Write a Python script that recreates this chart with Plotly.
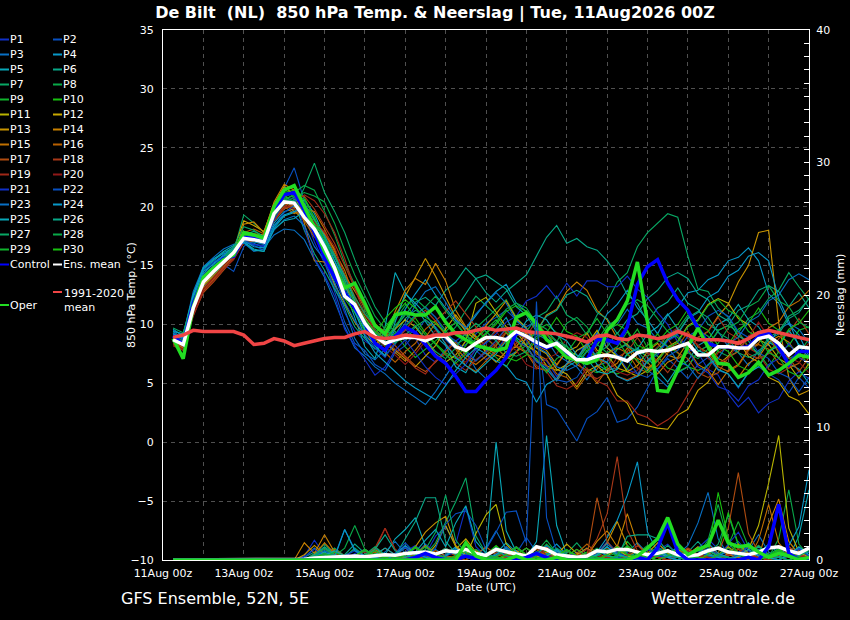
import pandas as pd
import plotly.graph_objects as go

# 6-hourly steps from 11Aug 06z to 27Aug 00z
times = pd.date_range("2026-08-11 06:00", periods=64, freq="6h")

# ---- 850 hPa temperature (deg C) ----
oper_t = [8.8, 7.1, 11.5, 14.0, 14.8, 15.5, 15.9, 17.8, 17.6, 17.3, 20.0, 21.4, 21.8, 20.0, 18.2, 16.2,
          14.7, 13.1, 13.5, 11.8, 9.9, 9.2, 10.8, 11.0, 10.8, 10.8, 11.5, 10.2, 9.2, 8.7, 8.2, 8.0,
          7.8, 8.0, 10.6, 11.0, 10.1, 8.7, 8.1, 7.2, 7.0, 6.7, 7.0, 9.5, 10.4, 12.0, 15.3, 10.2,
          4.4, 4.3, 6.1, 8.1, 9.7, 8.1, 6.7, 6.6, 5.5, 5.9, 6.8, 5.7, 6.1, 6.7, 7.4, 7.2]
control_t = [9.0, 8.3, 11.8, 13.9, 14.8, 15.6, 15.8, 17.4, 17.3, 17.0, 19.6, 21.0, 21.2, 19.7, 17.8, 15.7,
             14.0, 12.7, 11.4, 10.1, 8.4, 7.8, 9.0, 9.8, 9.3, 8.3, 7.3, 6.7, 5.6, 4.3, 4.3, 5.3,
             6.1, 7.2, 9.3, 9.0, 8.4, 8.0, 8.4, 7.6, 7.0, 7.0, 8.7, 8.7, 8.4, 9.8, 13.4, 14.9,
             15.5, 13.5, 12.1, 11.2, 9.7, 8.4, 8.1, 8.1, 8.0, 8.1, 9.0, 9.3, 8.1, 6.6, 7.7, 7.7]
ens_mean_t = [8.7, 8.3, 11.4, 13.6, 14.5, 15.3, 16.1, 17.3, 17.2, 17.0, 19.4, 20.4, 20.3, 19.1, 18.1, 16.6,
              14.8, 12.4, 11.7, 10.1, 9.0, 8.4, 8.7, 8.9, 8.9, 8.6, 9.0, 9.0, 8.1, 7.8, 8.4, 8.9,
              8.9, 8.7, 9.4, 9.0, 8.5, 8.1, 8.4, 7.7, 7.0, 7.0, 7.3, 7.4, 7.2, 6.9, 7.6, 7.8,
              7.7, 7.8, 8.1, 8.4, 7.4, 7.4, 8.1, 8.1, 8.0, 8.0, 8.8, 9.0, 8.4, 7.4, 8.1, 8.0]
clim_t = [8.9, 9.1, 9.5, 9.4, 9.4, 9.4, 9.4, 9.1, 8.3, 8.4, 8.8, 8.6, 8.2, 8.4, 8.6, 8.8,
          8.9, 8.9, 9.2, 9.4, 8.9, 8.8, 8.9, 9.1, 9.0, 8.9, 9.1, 9.1, 9.3, 9.3, 9.5, 9.7,
          9.5, 9.6, 9.7, 9.4, 9.3, 9.3, 9.2, 9.0, 8.8, 8.5, 9.0, 9.1, 8.8, 8.7, 9.1, 9.0,
          8.8, 9.0, 9.4, 9.1, 8.7, 8.7, 8.7, 8.6, 8.4, 8.8, 9.3, 9.5, 9.3, 9.1, 8.9, 8.7]

p01_t = [9.2, 8.6, 11.0, 13.2, 14.3, 15.0, 15.8, 17.0, 16.8, 16.7, 19.0, 20.6, 21.0, 19.4, 17.0, 15.2,
         13.2, 11.0, 9.4, 8.6, 8.0, 7.2, 8.5, 9.6, 8.8, 7.4, 6.8, 7.9, 8.6, 9.2, 7.8, 7.0,
         7.8, 8.9, 9.5, 8.6, 7.3, 6.9, 5.6, 6.7, 7.8, 8.1, 9.3, 8.0, 7.4, 6.2, 5.8, 6.9,
         7.4, 8.6, 9.1, 7.9, 7.6, 6.2, 5.7, 4.1, 3.0, 3.8, 2.5, 3.3, 3.7, 5.2, 6.0, 5.4]
p02_t = [9.0, 8.4, 11.8, 14.0, 14.8, 15.1, 14.5, 16.6, 17.4, 17.6, 19.8, 21.6, 23.3, 20.5, 17.8, 15.4,
         12.8, 10.2, 8.4, 7.8, 6.6, 6.1, 7.6, 8.2, 9.3, 10.4, 9.8, 8.7, 7.9, 8.3, 9.2, 10.1,
         10.6, 11.2, 10.4, 9.8, 10.3, 3.2, 2.8, 1.5, 0.1, 2.0, 2.6, 3.8, 1.7, 2.0, 3.0, 4.6,
         6.2, 7.1, 6.3, 5.4, 6.6, 7.2, 6.1, 5.8, 4.6, 5.9, 6.4, 5.8, 5.3, 4.2, 5.5, 4.6]
p03_t = [9.4, 8.8, 12.4, 14.9, 15.6, 16.0, 16.3, 17.1, 16.9, 16.5, 17.6, 18.1, 18.0, 17.2, 15.5, 14.0,
         12.0, 9.8, 8.0, 7.3, 6.4, 5.8, 5.0, 4.4, 3.8, 3.2, 4.3, 5.6, 6.9, 7.7, 6.2, 5.4,
         6.1, 7.2, 7.7, 8.9, 9.2, 8.7, 7.4, 6.9, 6.4, 5.3, 6.5, 6.8, 7.9, 8.3, 7.6, 6.1,
         5.5, 4.7, 5.9, 6.4, 7.7, 8.2, 9.4, 8.1, 7.6, 6.5, 7.8, 8.3, 9.6, 10.1, 9.6, 8.4]
p04_t = [9.1, 8.9, 12.0, 14.3, 15.2, 15.9, 16.6, 17.2, 17.0, 16.8, 18.6, 19.6, 19.8, 19.0, 18.9, 17.6,
         15.4, 13.8, 11.2, 9.5, 8.4, 7.9, 9.6, 11.3, 12.6, 13.8, 12.5, 11.4, 10.3, 9.6, 10.7, 11.9,
         12.8, 13.4, 11.8, 11.1, 9.6, 9.2, 8.0, 7.7, 6.9, 8.2, 9.2, 10.9, 11.7, 12.9, 11.4, 10.4,
         9.2, 10.8, 11.5, 12.7, 12.9, 13.8, 14.2, 15.4, 15.7, 16.5, 15.4, 12.6, 11.8, 10.0, 9.1, 7.3]
p05_t = [9.6, 9.0, 12.6, 14.7, 15.4, 16.1, 16.5, 17.0, 16.4, 16.2, 18.2, 19.2, 19.5, 20.6, 19.4, 17.4,
         14.6, 12.9, 10.6, 8.1, 7.1, 9.8, 14.4, 12.7, 11.5, 10.2, 9.0, 8.2, 6.4, 5.9, 7.6, 8.5,
         9.6, 10.6, 8.9, 8.2, 6.9, 6.2, 5.2, 6.4, 6.9, 8.1, 6.6, 6.1, 6.3, 7.5, 8.0, 7.2,
         6.1, 5.1, 6.4, 6.9, 8.2, 8.7, 10.0, 10.5, 11.7, 10.4, 9.8, 8.5, 8.0, 6.7, 6.2, 5.0]
p06_t = [8.9, 8.6, 11.2, 13.4, 14.2, 15.1, 15.9, 17.6, 17.9, 17.5, 19.7, 20.9, 20.4, 18.0, 16.0, 14.6,
         13.0, 11.6, 9.8, 8.8, 7.9, 8.4, 9.1, 10.5, 11.2, 10.8, 11.6, 12.9, 13.6, 14.8, 13.9, 12.7,
         11.9, 12.8, 13.5, 14.2, 15.8, 17.4, 18.4, 16.9, 17.3, 16.6, 16.3, 15.4, 14.2, 12.5, 11.8, 10.2,
         11.4, 11.9, 13.1, 11.8, 11.3, 10.0, 9.5, 9.9, 11.2, 11.6, 12.9, 13.3, 12.8, 11.5, 12.7, 11.4]
p07_t = [9.3, 8.1, 10.8, 13.0, 14.0, 15.0, 16.2, 19.3, 18.6, 17.8, 20.1, 20.6, 19.9, 21.6, 23.7, 21.2,
         19.6, 17.8, 15.5, 13.4, 11.5, 10.2, 9.4, 8.6, 9.8, 10.4, 9.6, 8.9, 9.8, 11.2, 12.4, 11.6,
         10.8, 9.5, 9.1, 9.4, 10.6, 11.1, 12.4, 10.8, 10.3, 9.1, 10.8, 11.9, 13.6, 14.4, 16.6, 17.8,
         18.6, 19.4, 19.1, 15.8, 13.0, 12.8, 11.4, 10.6, 9.3, 10.5, 11.0, 12.2, 12.9, 14.4, 13.2, 12.1]
p08_t = [8.6, 8.0, 11.5, 13.8, 14.6, 15.4, 16.4, 17.9, 17.6, 17.2, 19.6, 20.8, 21.2, 21.8, 21.4, 19.6,
         17.6, 15.2, 13.4, 11.2, 9.6, 8.8, 10.4, 11.6, 12.2, 11.4, 10.6, 9.5, 8.3, 8.8, 9.7, 10.5,
         11.3, 12.1, 10.6, 9.7, 8.4, 8.0, 8.5, 10.1, 10.6, 9.8, 8.3, 7.6, 8.1, 9.4, 7.8, 7.3,
         8.0, 9.1, 9.6, 10.8, 9.5, 9.0, 7.7, 7.3, 7.7, 9.0, 9.4, 8.9, 7.6, 7.1, 7.5, 8.8]
p09_t = [8.8, 8.2, 11.6, 13.7, 14.6, 15.5, 16.2, 17.5, 17.3, 17.1, 19.4, 20.7, 20.9, 20.2, 18.8, 17.0,
         15.0, 13.0, 11.2, 9.8, 8.8, 8.2, 9.3, 8.1, 7.2, 7.9, 8.6, 9.4, 10.2, 9.1, 8.4, 7.8,
         7.2, 6.4, 7.7, 8.2, 9.5, 10.0, 9.3, 7.8, 7.4, 6.2, 5.9, 6.4, 7.9, 8.4, 9.6, 8.0,
         7.3, 6.3, 6.0, 6.4, 7.7, 8.2, 9.5, 9.9, 9.4, 8.1, 7.6, 6.4, 7.7, 8.2, 9.5, 9.8]
p10_t = [8.5, 7.8, 11.3, 13.5, 14.4, 15.3, 16.0, 17.7, 17.5, 17.3, 19.9, 21.2, 21.4, 20.8, 19.0, 16.8,
         14.4, 12.2, 11.0, 9.4, 8.6, 9.7, 10.9, 11.8, 10.6, 9.3, 8.4, 7.6, 7.1, 8.2, 9.5, 8.8,
         8.1, 7.2, 6.9, 7.4, 8.8, 9.3, 10.6, 9.4, 9.0, 7.7, 7.3, 6.1, 5.8, 6.2, 7.7, 8.2,
         9.2, 8.1, 7.6, 6.4, 6.1, 6.5, 7.8, 8.3, 9.6, 10.1, 11.4, 10.1, 9.5, 8.2, 7.7, 6.5]
p11_t = [8.9, 8.4, 11.2, 13.3, 14.1, 15.0, 15.9, 17.8, 17.6, 17.4, 19.5, 20.5, 20.0, 19.6, 18.4, 15.6,
         13.4, 11.8, 10.2, 9.1, 8.3, 8.9, 9.6, 10.4, 9.8, 8.7, 7.5, 6.8, 7.4, 8.6, 11.8, 12.3,
         11.1, 9.8, 9.4, 8.2, 7.7, 6.5, 6.1, 6.6, 7.8, 8.3, 9.5, 8.0, 7.3, 6.0, 5.6, 6.1,
         7.1, 8.1, 8.6, 9.9, 10.4, 11.7, 12.2, 11.8, 10.5, 10.0, 8.7, 8.3, 7.1, 6.6, 5.4, 6.7]
p12_t = [9.0, 8.3, 11.4, 13.6, 14.5, 15.4, 16.3, 18.8, 18.4, 17.9, 20.2, 21.7, 21.0, 19.2, 17.6, 16.2,
         14.7, 12.6, 11.4, 10.2, 9.1, 8.4, 7.8, 7.1, 6.4, 7.3, 8.2, 9.6, 10.8, 9.7, 8.9, 7.6,
         6.8, 7.7, 8.1, 9.3, 8.0, 7.5, 6.2, 5.8, 4.7, 6.0, 6.5, 5.7, 4.0, 3.3, 1.6, 1.4,
         1.2, 1.1, 2.3, 2.8, 4.4, 5.1, 6.6, 7.3, 8.6, 7.3, 6.8, 5.5, 5.1, 3.9, 3.5, 2.4]
p13_t = [8.7, 8.0, 11.1, 13.4, 14.4, 15.2, 16.0, 17.4, 17.7, 17.6, 19.4, 20.2, 19.6, 18.9, 18.2, 17.7,
         16.4, 14.2, 12.8, 11.4, 10.1, 9.2, 10.6, 12.4, 14.0, 15.6, 14.1, 12.3, 10.6, 9.4, 8.7, 9.9,
         10.9, 12.0, 10.5, 9.7, 8.2, 7.8, 6.6, 7.7, 8.1, 9.3, 7.8, 7.4, 6.3, 6.0, 6.5, 7.7,
         8.4, 7.4, 7.1, 7.6, 8.9, 9.4, 10.7, 11.7, 13.6, 15.0, 17.8, 18.0, 10.1, 5.5, 4.0, 4.4]
p14_t = [8.6, 8.2, 11.0, 13.1, 14.0, 14.9, 15.7, 18.5, 18.7, 17.8, 20.4, 21.9, 21.4, 18.6, 15.4, 15.3,
         14.1, 13.2, 12.0, 10.6, 9.4, 8.8, 11.1, 12.9, 13.9, 13.4, 15.2, 13.7, 11.2, 9.8, 9.0, 8.1,
         7.4, 7.1, 7.6, 8.9, 9.4, 10.8, 11.3, 12.8, 13.6, 12.9, 11.2, 10.4, 8.8, 8.3, 7.1, 6.8,
         5.8, 6.8, 7.2, 8.5, 8.9, 8.4, 7.1, 6.7, 5.5, 6.7, 7.2, 8.5, 9.0, 8.5, 7.2, 6.7]
p15_t = [8.4, 8.0, 10.9, 12.9, 13.8, 14.8, 15.8, 17.2, 17.4, 17.2, 19.0, 20.0, 19.4, 19.8, 19.6, 18.1,
         16.2, 14.6, 12.1, 10.3, 9.2, 8.5, 7.6, 6.9, 7.8, 8.9, 10.1, 9.2, 8.0, 7.1, 6.6, 7.3,
         8.2, 9.3, 8.1, 7.6, 6.3, 6.1, 6.5, 7.8, 6.6, 6.1, 5.0, 6.2, 6.7, 8.0, 6.8, 6.3,
         6.9, 8.0, 8.4, 7.9, 6.6, 6.1, 4.9, 6.1, 6.6, 7.9, 8.4, 9.7, 10.2, 11.5, 12.0, 12.9]
p16_t = [8.8, 8.5, 11.3, 13.4, 14.3, 15.3, 16.2, 17.8, 18.1, 17.7, 19.6, 20.3, 19.9, 18.8, 17.4, 16.4,
         15.1, 13.5, 11.9, 10.0, 8.9, 7.6, 6.8, 7.7, 8.4, 9.6, 10.3, 9.1, 7.9, 6.5, 6.0, 6.9,
         7.7, 8.7, 9.2, 8.8, 7.5, 7.0, 5.8, 5.5, 4.5, 5.7, 6.2, 7.5, 8.0, 7.6, 6.3, 5.9,
         6.5, 7.6, 8.1, 9.4, 8.1, 7.6, 6.4, 6.0, 6.5, 7.8, 8.3, 7.9, 6.7, 6.3, 6.7, 8.0]
p17_t = [8.3, 7.9, 10.8, 12.7, 13.6, 14.6, 15.6, 16.9, 17.1, 17.0, 18.8, 19.8, 20.2, 19.9, 18.6, 17.8,
         16.0, 14.3, 12.4, 10.8, 9.8, 9.0, 8.2, 7.3, 6.5, 6.0, 6.8, 7.7, 8.5, 7.4, 6.9, 7.8,
         8.6, 9.6, 8.5, 8.1, 6.9, 6.5, 5.3, 6.6, 7.1, 8.3, 7.1, 6.7, 5.6, 5.3, 5.7, 7.0,
         7.7, 8.8, 7.6, 7.1, 5.9, 5.5, 5.9, 7.2, 7.7, 9.0, 9.4, 9.0, 7.7, 7.2, 6.0, 7.2]
p18_t = [8.5, 8.1, 11.0, 13.0, 13.9, 14.8, 15.7, 17.3, 17.2, 17.1, 19.1, 20.1, 20.6, 20.9, 19.8, 18.3,
         16.9, 15.0, 13.1, 11.4, 10.0, 9.4, 8.7, 9.5, 10.6, 11.2, 10.3, 11.1, 12.0, 10.9, 9.8, 8.9,
         8.1, 7.1, 8.4, 9.0, 10.3, 9.1, 8.6, 7.4, 6.9, 5.7, 5.4, 5.9, 7.2, 7.7, 8.9, 7.6,
         6.9, 5.9, 7.1, 7.6, 8.9, 9.4, 10.6, 9.3, 8.8, 7.5, 7.1, 7.5, 8.8, 9.3, 10.5, 9.2]
p19_t = [8.2, 7.8, 10.7, 12.8, 13.7, 14.7, 15.5, 17.0, 17.3, 17.2, 18.9, 19.9, 20.3, 21.0, 20.5, 19.4,
         17.8, 15.6, 13.0, 10.9, 9.5, 8.6, 7.9, 7.2, 6.3, 5.8, 6.9, 7.5, 6.7, 6.1, 7.0, 7.6,
         8.4, 9.4, 8.2, 7.7, 6.5, 6.0, 4.8, 4.5, 5.0, 6.3, 5.2, 4.8, 3.5, 3.5, 2.4, 2.1,
         1.4, 1.9, 2.6, 4.0, 5.5, 6.2, 7.6, 8.1, 9.3, 8.0, 7.5, 6.2, 5.8, 6.3, 7.6, 8.4]
p20_t = [8.4, 7.9, 10.9, 13.0, 14.0, 15.0, 15.9, 17.1, 17.4, 17.3, 19.2, 20.1, 19.8, 19.3, 18.7, 17.9,
         16.6, 14.0, 12.2, 10.4, 9.0, 8.1, 7.4, 6.6, 7.5, 8.6, 9.5, 8.4, 7.3, 6.8, 7.9, 8.6,
         9.4, 8.3, 7.8, 6.6, 6.2, 7.1, 7.5, 8.8, 9.3, 8.9, 7.6, 7.2, 6.0, 5.7, 6.1, 7.4,
         8.1, 9.2, 9.7, 8.8, 8.3, 7.1, 6.7, 7.1, 8.4, 8.9, 10.2, 8.9, 8.4, 7.2, 6.8, 5.9]
p21_t = [9.1, 8.5, 11.9, 14.2, 15.0, 15.6, 16.3, 17.0, 16.8, 16.6, 18.9, 20.4, 20.8, 18.2, 15.6, 14.2,
         12.4, 9.6, 8.2, 7.0, 5.7, 6.4, 7.8, 8.7, 7.6, 6.4, 5.5, 4.9, 5.8, 6.6, 7.9, 8.4,
         9.2, 10.2, 10.7, 12.0, 12.4, 13.3, 12.2, 13.5, 12.4, 13.7, 13.7, 13.2, 13.2, 14.1, 13.0, 12.3,
         11.0, 10.0, 8.5, 7.8, 6.4, 5.9, 4.7, 4.4, 3.5, 4.8, 5.3, 6.6, 7.1, 8.4, 7.2, 6.7]
p22_t = [9.3, 8.7, 12.2, 14.6, 15.3, 15.8, 16.5, 17.2, 16.7, 16.3, 18.3, 19.5, 20.1, 19.3, 17.9, 16.8,
         14.0, 11.9, 10.3, 9.1, 8.0, 7.4, 8.3, 9.9, 10.8, 11.5, 10.6, 9.2, 8.6, 7.8, 6.9, 7.7,
         8.6, 9.7, 8.6, 8.1, 6.8, 6.4, 5.3, 5.1, 5.5, 6.8, 7.3, 8.6, 7.4, 7.0, 5.8, 5.5,
         6.2, 7.3, 7.8, 9.0, 9.5, 10.7, 11.2, 10.7, 9.4, 8.9, 7.6, 7.1, 5.9, 5.5, 4.3, 5.5]
p23_t = [9.5, 9.1, 12.8, 14.9, 15.7, 16.4, 16.8, 16.9, 16.2, 16.4, 18.0, 18.9, 19.2, 18.4, 16.6, 15.5,
         13.6, 11.3, 8.8, 7.5, 7.0, 7.9, 9.0, 10.1, 11.6, 12.8, 13.2, 11.9, 10.4, 9.7, 10.9, 11.8,
         12.7, 11.8, 10.3, 9.6, 8.1, 7.6, 6.4, 6.1, 6.5, 7.7, 8.2, 9.5, 10.0, 11.3, 10.1, 9.7,
         8.7, 8.1, 6.9, 6.5, 5.4, 6.6, 7.1, 8.4, 8.9, 10.2, 10.7, 12.0, 12.5, 13.8, 14.3, 13.8]
p24_t = [9.2, 8.8, 12.3, 14.5, 15.1, 15.8, 16.4, 17.1, 16.6, 16.5, 18.4, 19.3, 19.6, 19.8, 18.1, 16.9,
         15.4, 13.4, 11.1, 9.0, 7.6, 6.8, 6.0, 5.2, 4.6, 4.1, 3.6, 4.8, 6.1, 7.2, 8.0, 7.5,
         6.9, 6.5, 5.4, 5.1, 3.4, 4.9, 5.4, 6.7, 7.1, 8.4, 7.2, 6.8, 5.6, 5.2, 5.6, 6.9,
         7.6, 8.7, 9.2, 10.5, 11.0, 12.3, 12.8, 14.1, 14.6, 15.8, 16.1, 15.4, 12.2, 10.3, 8.1, 7.2]
p25_t = [9.4, 9.2, 12.5, 14.8, 15.5, 16.2, 16.7, 17.0, 16.3, 16.2, 18.1, 18.8, 19.0, 19.6, 18.3, 17.1,
         15.8, 14.1, 12.0, 9.6, 8.2, 7.3, 10.2, 12.6, 11.8, 10.9, 9.7, 8.3, 7.2, 6.5, 5.9, 6.7,
         7.5, 8.6, 9.0, 10.3, 10.8, 10.4, 9.1, 8.6, 7.4, 7.1, 6.0, 5.8, 6.2, 7.5, 7.9, 9.2,
         9.8, 10.9, 9.6, 9.1, 7.8, 7.4, 6.2, 5.8, 4.7, 5.9, 6.4, 7.7, 8.2, 9.5, 8.3, 7.9]
p26_t = [9.0, 8.5, 11.6, 13.9, 14.8, 15.6, 16.4, 17.7, 17.5, 17.2, 19.3, 20.2, 20.6, 20.3, 18.9, 17.5,
         15.9, 13.7, 11.8, 10.1, 9.3, 8.6, 9.7, 10.8, 11.9, 12.3, 11.6, 10.4, 11.3, 12.6, 13.9, 14.2,
         13.6, 13.0, 11.5, 10.8, 9.4, 10.7, 11.2, 12.5, 12.9, 12.4, 11.0, 10.5, 9.2, 10.4, 10.9, 12.2,
         12.9, 14.0, 14.4, 13.9, 12.6, 12.1, 10.8, 10.3, 9.0, 8.6, 7.4, 8.7, 9.2, 10.5, 11.0, 12.2]
p27_t = [9.7, 9.3, 12.1, 14.1, 14.9, 15.7, 16.6, 18.3, 18.0, 17.4, 19.5, 20.6, 20.5, 19.7, 18.5, 17.3,
         15.7, 14.0, 12.3, 10.9, 9.9, 9.0, 8.4, 9.1, 9.9, 8.8, 7.7, 7.1, 8.0, 9.3, 10.1, 9.4,
         8.6, 7.6, 7.3, 7.7, 9.0, 9.4, 8.6, 8.2, 7.1, 6.8, 7.6, 8.1, 9.3, 8.1, 7.8, 6.7,
         7.7, 8.8, 9.3, 10.6, 11.1, 10.6, 9.3, 8.8, 7.6, 7.2, 7.6, 8.9, 9.4, 10.7, 11.2, 12.2]
p28_t = [8.7, 8.2, 11.4, 13.7, 14.6, 15.5, 16.3, 17.6, 17.4, 17.1, 19.2, 20.3, 20.8, 21.2, 20.9, 20.4,
         18.6, 16.3, 14.2, 12.4, 10.7, 9.6, 8.9, 9.8, 10.7, 11.5, 12.4, 11.2, 10.1, 9.0, 8.4, 9.3,
         10.2, 11.3, 11.8, 11.4, 10.1, 9.6, 8.4, 8.1, 7.0, 8.1, 8.6, 9.9, 10.4, 11.7, 12.1, 11.6,
         10.5, 9.4, 8.9, 7.6, 7.1, 7.9, 8.4, 9.7, 10.2, 11.5, 12.0, 13.3, 12.0, 11.5, 10.2, 9.7]
p29_t = [8.9, 8.4, 11.7, 13.8, 14.7, 15.5, 16.2, 17.4, 17.2, 16.9, 19.1, 20.5, 21.1, 20.6, 19.1, 17.2,
         15.1, 13.6, 11.9, 10.5, 9.4, 8.7, 9.9, 10.9, 10.2, 9.1, 8.3, 7.4, 6.7, 7.5, 8.8, 9.6,
         10.4, 9.3, 8.8, 7.5, 7.1, 5.9, 7.1, 7.6, 8.8, 9.3, 10.5, 9.2, 8.7, 7.4, 7.0, 5.9,
         6.9, 8.0, 8.5, 9.8, 10.3, 11.6, 12.1, 11.2, 10.7, 9.4, 8.9, 7.6, 7.2, 6.0, 5.6, 6.4]
p30_t = [9.0, 8.6, 11.5, 13.6, 14.5, 15.4, 16.1, 17.6, 17.3, 17.0, 19.3, 20.8, 21.3, 20.1, 18.4, 16.6,
         14.5, 12.8, 11.5, 10.4, 9.1, 10.5, 11.4, 12.1, 11.4, 10.6, 10.1, 9.3, 8.2, 7.6, 8.4, 9.2,
         10.0, 11.1, 11.6, 11.1, 9.8, 9.3, 8.1, 7.8, 6.7, 7.8, 8.3, 9.6, 10.0, 9.5, 8.2, 7.9,
         8.5, 9.5, 10.0, 11.3, 10.0, 9.5, 8.2, 7.7, 6.5, 6.1, 6.5, 7.8, 8.3, 9.6, 10.1, 11.2]

# ---- precipitation per 6h (mm) ----
oper_p = [0, 0, 0, 0, 0, 0, 0, 0, 0, 0, 0, 0, 0, 0, 0, 0,
          0, 0, 0, 0, 0, 0, 0, 0, 0, 0, 0, 0, 0, 1.3, 0.3, 0,
          0, 0, 0.3, 0, 0, 0, 0.2, 0, 0, 0, 0, 0, 0, 0, 0.3, 0.9,
          1.6, 3.2, 1.2, 0.4, 0.8, 1.1, 3.0, 1.3, 1.0, 1.1, 0.6, 0.2, 0.5, 0.3, 0, 0.2]
control_p = [0, 0, 0, 0, 0, 0, 0, 0, 0, 0, 0, 0, 0, 0, 0, 0,
             0, 0, 0, 0, 0, 0, 0, 0, 0.2, 0.5, 0.2, 0, 0, 0.3, 0.1, 0,
             0, 0, 0, 0.2, 0.5, 0.2, 0, 0, 0, 0, 0, 0, 0, 0, 0.2, 0,
             0.9, 2.8, 0.6, 0, 0, 0, 0, 0, 0, 0.2, 0, 1.0, 4.2, 0.5, 0, 0]
ens_mean_p = [0, 0, 0, 0, 0, 0, 0, 0, 0, 0, 0, 0, 0, 0.05, 0.15, 0.2,
              0.2, 0.25, 0.3, 0.25, 0.3, 0.4, 0.35, 0.5, 0.55, 0.6, 0.45, 0.7, 0.6, 0.8, 0.5, 0.35,
              0.8, 0.6, 0.45, 0.3, 1.0, 0.8, 0.4, 0.3, 0.2, 0.3, 0.7, 0.6, 0.8, 0.8, 0.6, 0.4,
              0.5, 0.7, 0.4, 0.3, 0.4, 0.7, 0.9, 0.6, 0.5, 0.4, 0.6, 0.9, 1.0, 0.7, 0.5, 0.9]

p01_p = [0, 0, 0, 0, 0, 0, 0, 0, 0, 0, 0, 0, 0, 0.3, 1.5, 0.4,
         0.2, 0, 0.5, 0.8, 0.3, 0, 0.2, 0.6, 1.1, 0.4, 1.8, 2.5, 1.2, 4.0, 1.0, 0.3,
         0, 0.2, 0.6, 0.2, 0, 0.4, 0.9, 0.3, 0, 0.2, 0.5, 1.4, 0.6, 0.2, 0, 0.3,
         0.7, 1.2, 0.4, 0.2, 0.9, 1.6, 0.8, 0.3, 0.6, 1.0, 0.4, 0.2, 0, 0.5, 0.3, 0.2]
p02_p = [0, 0, 0, 0, 0, 0, 0, 0, 0, 0, 0, 0, 0, 0, 0, 0.6,
         0.9, 0.3, 0, 0.2, 0.7, 0.3, 0, 0, 0.4, 1.2, 0.5, 0.2, 0, 0.3, 0.8, 0.4,
         0.2, 0, 0.5, 1.7, 0.6, 0.3, 0, 0.2, 0.6, 0.2, 0, 0.4, 1.1, 0.5, 0.2, 0,
         0.3, 0.6, 0.2, 0, 0.4, 0.8, 0.3, 0.9, 1.4, 0.5, 0.2, 0, 0.3, 0.6, 0.2, 0.4]
p03_p = [0, 0, 0, 0, 0, 0, 0, 0, 0, 0, 0, 0, 0, 0.2, 0.9, 0.3,
         0, 0, 0.4, 0.2, 0, 0.6, 1.4, 0.5, 0, 0.3, 0.8, 0.3, 0, 0.2, 0.5, 0.9,
         2.2, 0.8, 0.3, 0, 0.2, 0.5, 0.2, 0, 0.3, 0.9, 0.4, 0.1, 0, 0.6, 1.3, 0.5,
         0.2, 0, 0.4, 1.1, 2.8, 5.1, 1.6, 0.4, 0.2, 0.7, 1.9, 0.6, 0.2, 0, 0.3, 0.6]
p04_p = [0, 0, 0, 0, 0, 0, 0, 0, 0, 0, 0, 0, 0, 0, 0, 0.2,
         0.5, 0.2, 0, 0.3, 0.9, 0.4, 0, 0.2, 0.6, 0.3, 0, 0.4, 1.0, 0.4, 0.2, 0,
         0.3, 0.7, 0.3, 0, 0.2, 0.5, 1.2, 0.4, 0.2, 0, 0.6, 1.7, 3.0, 4.9, 7.4, 2.1,
         0.6, 0.2, 0, 0.3, 0.8, 0.4, 0.2, 0, 0.5, 1.3, 0.5, 0.2, 0, 0.4, 0.9, 0.3]
p05_p = [0, 0, 0, 0, 0, 0, 0, 0, 0, 0, 0, 0, 0, 0, 0.4, 0.2,
         0, 0.3, 0.8, 0.3, 0, 0.4, 1.6, 2.3, 3.2, 1.0, 0.4, 0, 0.2, 0.6, 0.3, 0,
         0.5, 1.3, 0.6, 0.2, 1.4, 9.4, 2.6, 0.4, 0, 0.3, 0.8, 0.3, 0, 0.2, 0.6, 0.2,
         0, 0.4, 1.0, 0.4, 0.2, 0, 0.3, 0.7, 0.3, 0, 0.5, 1.2, 0.5, 0.2, 1.8, 5.3]
p06_p = [0, 0, 0, 0, 0, 0, 0, 0, 0, 0, 0, 0, 0, 0.2, 0.6, 0.2,
         0, 0.4, 1.2, 0.5, 0.2, 0, 0.3, 1.6, 2.9, 4.7, 4.7, 1.4, 0.5, 0.2, 0, 0.4,
         1.0, 0.4, 0.2, 0, 0.5, 1.1, 0.4, 0.2, 0, 0.3, 0.8, 0.3, 0.2, 0, 0.4, 0.9,
         0.3, 0, 0.2, 0.6, 1.4, 0.5, 0.2, 0, 0.3, 0.8, 0.3, 0, 0.2, 0.5, 0.2, 0]
p07_p = [0, 0, 0, 0, 0, 0, 0, 0, 0, 0, 0, 0, 0, 0, 0.5, 1.2,
         0.4, 0.2, 0.9, 0.3, 0, 0.2, 0.5, 0.2, 0, 0.4, 1.3, 2.8, 4.4, 6.2, 1.8, 0.5,
         0.2, 0, 0.4, 0.9, 0.3, 0.2, 0, 0.5, 1.3, 0.4, 0.2, 0, 0.3, 0.7, 0.2, 0,
         0.4, 1.1, 0.4, 0.2, 0, 0.5, 1.2, 3.4, 1.1, 0.3, 0, 0.4, 0.9, 0.3, 0.2, 0]
p08_p = [0, 0, 0, 0, 0, 0, 0, 0, 0, 0, 0, 0, 0, 0, 0.3, 0.8,
         0.3, 0.9, 2.6, 0.8, 0.3, 0, 0.2, 0.6, 0.2, 0, 0.4, 0.9, 0.3, 0.2, 0, 0.3,
         0.8, 0.3, 0, 0.2, 0.6, 1.5, 0.5, 0.2, 0, 0.4, 0.9, 0.3, 0.2, 0, 0.5, 1.1,
         0.4, 0.2, 0, 0.3, 0.8, 0.3, 0.2, 0, 0.4, 1.0, 0.4, 0.2, 1.6, 5.3, 1.2, 0.3]
p09_p = [0, 0, 0, 0, 0, 0, 0, 0, 0, 0, 0, 0, 0, 0, 0, 0.3,
         0.9, 0.3, 0, 0.2, 0.5, 0.2, 0, 0.4, 1.0, 0.4, 0.2, 0, 0.3, 0.7, 0.3, 0,
         0.2, 0.6, 0.2, 0, 0.4, 1.2, 0.5, 0.2, 0, 0.3, 0.8, 0.3, 0.5, 1.4, 0.5, 0.2,
         0, 0.3, 0.9, 0.3, 0.2, 0, 0.4, 1.1, 2.9, 1.0, 0.3, 0, 0.2, 0.6, 0.2, 0]
p10_p = [0, 0, 0, 0, 0, 0, 0, 0, 0, 0, 0, 0, 0, 0, 0.2, 0.6,
         0.2, 0, 0.3, 0.8, 0.3, 0, 0.2, 0.5, 0.2, 0, 0.3, 0.9, 0.4, 0.2, 0, 0.4,
         1.1, 0.4, 0.2, 0, 0.3, 0.7, 0.3, 0, 0.2, 0.6, 0.2, 0, 0.4, 1.0, 0.4, 0.2,
         0, 0.3, 0.8, 0.3, 0.2, 0, 0.5, 3.6, 1.2, 0.4, 0.2, 0, 0.3, 0.7, 0.3, 0]
p11_p = [0, 0, 0, 0, 0, 0, 0, 0, 0, 0, 0, 0, 0, 0, 0, 0.2,
         0.4, 0.2, 0, 0.3, 0.7, 0.3, 0, 0.2, 0.4, 0.2, 1.1, 2.6, 1.0, 0.3, 2.0, 3.4,
         4.2, 1.2, 0.4, 0.2, 0, 0.3, 0.7, 0.3, 0.2, 0, 0.4, 0.9, 0.4, 0.2, 0, 0.3,
         0.6, 0.2, 0, 0.4, 1.0, 0.4, 0.2, 0, 0.3, 0.8, 2.6, 5.8, 9.4, 2.4, 0.6, 0.2]
p12_p = [0, 0, 0, 0, 0, 0, 0, 0, 0, 0, 0, 0, 0, 0, 0.2, 0.5,
         0.2, 0, 0.3, 0.7, 0.3, 0, 0.4, 1.0, 0.4, 0.2, 0, 0.3, 0.8, 1.6, 0.6, 0.2,
         0, 0.3, 0.7, 0.3, 0.2, 0, 0.4, 1.2, 0.5, 0.2, 0, 0.3, 0.8, 0.3, 0.2, 0.5,
         1.3, 0.5, 0.2, 0, 0.3, 0.7, 0.3, 0.2, 0, 0.4, 1.1, 0.4, 0.2, 0, 0.3, 0.8]
p13_p = [0, 0, 0, 0, 0, 0, 0, 0, 0, 0, 0, 0, 0, 0.4, 1.1, 0.4,
         0.2, 0, 0.3, 0.8, 0.3, 0.2, 0, 0.4, 1.0, 2.1, 2.8, 3.3, 1.1, 0.4, 0.2, 0,
         0.3, 0.7, 0.3, 0, 0.2, 0.6, 0.2, 0, 0.4, 0.9, 0.4, 1.3, 2.9, 1.1, 0.4, 0.2,
         0, 0.3, 0.8, 0.3, 0.2, 0, 0.4, 1.0, 0.4, 0.2, 0, 0.3, 0.7, 0.3, 0.2, 0]
p14_p = [0, 0, 0, 0, 0, 0, 0, 0, 0, 0, 0, 0, 0, 1.3, 0.5, 1.9,
         0.6, 0.2, 0, 0.3, 0.8, 0.3, 0.2, 0, 0.4, 1.1, 0.4, 0.2, 0, 0.3, 0.7, 0.3,
         0.2, 0, 0.4, 0.9, 0.4, 0.2, 0, 0.3, 0.8, 0.3, 1.4, 2.2, 1.0, 3.5, 1.2, 0.4,
         0.2, 0, 0.3, 0.8, 0.3, 0.2, 0, 0.5, 1.2, 0.5, 0.2, 2.7, 4.6, 1.4, 0.4, 0.2]
p15_p = [0, 0, 0, 0, 0, 0, 0, 0, 0, 0, 0, 0, 0, 0, 0.4, 1.3,
         0.5, 0.2, 0, 0.3, 0.6, 0.2, 0, 0.4, 0.9, 0.3, 0.2, 0, 0.3, 0.8, 0.3, 0.2,
         0, 0.4, 1.0, 0.4, 0.2, 0, 0.3, 0.7, 0.3, 0.2, 0, 0.4, 1.1, 0.4, 0.2, 0,
         0.3, 0.8, 0.3, 0.2, 0, 0.4, 0.9, 0.4, 0.2, 0, 1.5, 4.2, 1.3, 0.4, 0.2, 0]
p16_p = [0, 0, 0, 0, 0, 0, 0, 0, 0, 0, 0, 0, 0, 0, 0, 0.3,
         0.8, 0.3, 0.2, 0, 0.4, 0.9, 0.4, 0.2, 0, 0.3, 0.7, 0.3, 0.2, 0, 0.4, 1.0,
         0.4, 0.2, 0, 0.3, 0.8, 0.3, 0.2, 0, 0.5, 1.2, 0.5, 0.2, 0, 0.3, 0.7, 0.3,
         0.2, 0, 0.4, 0.9, 0.4, 0.2, 0, 0.3, 0.8, 0.3, 0.2, 0, 0.4, 1.0, 0.4, 0.2]
p17_p = [0, 0, 0, 0, 0, 0, 0, 0, 0, 0, 0, 0, 0, 0, 0.2, 0.5,
         0.2, 0, 0.3, 0.7, 0.3, 0, 0.2, 0.6, 0.2, 0, 0.4, 0.9, 0.4, 0.2, 0, 0.3,
         0.7, 0.3, 0.2, 0, 0.4, 1.0, 0.4, 0.2, 0, 0.3, 4.7, 1.4, 0.4, 0.2, 0, 0.3,
         0.8, 0.3, 0.2, 0, 0.4, 1.2, 0.5, 2.4, 6.6, 2.0, 0.6, 0.2, 0, 0.3, 0.7, 0.3]
p18_p = [0, 0, 0, 0, 0, 0, 0, 0, 0, 0, 0, 0, 0, 0, 0.3, 0.9,
         0.3, 0.2, 0, 0.4, 0.9, 2.4, 0.8, 0.3, 0.2, 0, 0.3, 0.7, 0.3, 0.2, 0, 0.4,
         0.9, 0.4, 0.2, 0, 0.3, 0.8, 0.3, 0.2, 0, 0.4, 1.6, 3.5, 7.8, 2.3, 0.7, 0.3,
         0.2, 0, 0.4, 0.9, 0.4, 0.2, 0, 0.3, 0.8, 0.3, 0.2, 0, 0.4, 1.0, 0.4, 0.2]
p19_p = [0, 0, 0, 0, 0, 0, 0, 0, 0, 0, 0, 0, 0, 0, 0, 0.2,
         0.5, 0.2, 0, 0.3, 0.7, 2.4, 0.8, 0.3, 0.2, 0, 0.4, 0.9, 0.4, 0.2, 0, 0.3,
         0.6, 0.2, 0, 0.4, 0.9, 0.4, 0.2, 0, 0.3, 0.8, 0.3, 0.2, 0, 0.4, 1.1, 0.4,
         0.2, 0, 0.3, 0.7, 0.3, 0.2, 0, 0.4, 0.9, 0.4, 0.2, 0, 0.3, 0.8, 0.3, 0.2]
p20_p = [0, 0, 0, 0, 0, 0, 0, 0, 0, 0, 0, 0, 0, 0, 0.2, 0.4,
         0.2, 0, 0.3, 0.6, 0.2, 0, 0.4, 0.9, 0.4, 0.2, 0, 0.3, 0.7, 0.3, 0.2, 0,
         0.4, 1.0, 0.4, 0.2, 0, 0.3, 0.8, 0.3, 0.2, 0, 0.4, 0.9, 0.4, 0.2, 0, 0.3,
         0.7, 0.3, 0.2, 0, 0.4, 1.1, 0.4, 0.2, 0, 0.3, 0.8, 0.3, 0.2, 0, 0.4, 0.9]
p21_p = [0, 0, 0, 0, 0, 0, 0, 0, 0, 0, 0, 0, 0, 0.2, 0.8, 0.3,
         0, 0.3, 0.7, 0.3, 0.2, 0, 0.4, 1.0, 0.4, 0.2, 0, 0.3, 0.6, 0.2, 0, 0.4,
         0.9, 0.3, 0.2, 0, 0.5, 1.1, 0.4, 0.2, 0, 0.3, 0.7, 0.3, 0.2, 0, 0.4, 0.8,
         0.3, 0.2, 0, 0.4, 0.9, 0.4, 0.2, 1.2, 2.1, 0.7, 0.3, 0.2, 0, 0.4, 0.9, 0.3]
p22_p = [0, 0, 0, 0, 0, 0, 0, 0, 0, 0, 0, 0, 0, 0, 0, 0.4,
         0.2, 0, 0.3, 0.8, 0.3, 0.2, 0.5, 1.3, 0.5, 0.2, 0.9, 2.7, 3.5, 3.7, 2.6, 0.8,
         2.1, 3.6, 3.7, 1.3, 19.5, 3.2, 0.6, 0.2, 0, 0.3, 0.8, 0.3, 0.2, 0, 0.4, 0.9,
         0.4, 0.2, 0, 0.3, 0.7, 0.3, 0.2, 0, 0.4, 1.0, 0.4, 0.2, 0, 0.3, 0.8, 0.3]
p23_p = [0, 0, 0, 0, 0, 0, 0, 0, 0, 0, 0, 0, 0, 0, 0.3, 0.7,
         0.3, 2.3, 0.8, 0.3, 0.2, 0, 0.4, 0.9, 0.4, 0.2, 0, 0.3, 0.8, 0.3, 0.2, 0,
         0.4, 1.0, 0.4, 0.2, 0, 0.3, 0.8, 0.3, 0.2, 0, 0.5, 1.2, 0.5, 0.2, 0, 0.3,
         0.7, 0.3, 0.2, 0, 0.4, 0.9, 0.4, 0.2, 0, 0.3, 0.8, 0.3, 0.2, 0, 0.4, 1.0]
p24_p = [0, 0, 0, 0, 0, 0, 0, 0, 0, 0, 0, 0, 0, 0, 0.2, 0.6,
         0.2, 2.3, 0.7, 0.3, 0.2, 0, 0.4, 1.1, 0.5, 0.2, 0, 0.3, 0.9, 0.3, 0.2, 0,
         0.4, 0.9, 0.3, 0.2, 0, 0.3, 0.7, 0.3, 0.2, 0, 0.4, 1.0, 0.4, 0.2, 0, 0.3,
         0.8, 0.3, 0.2, 0, 0.4, 1.3, 0.5, 0.2, 0, 0.3, 0.7, 0.3, 0.2, 1.1, 2.5, 6.8]
p25_p = [0, 0, 0, 0, 0, 0, 0, 0, 0, 0, 0, 0, 0, 0, 0, 0.3,
         0.7, 0.3, 0.2, 0, 0.4, 0.9, 0.4, 0.2, 0.6, 1.5, 2.3, 1.0, 2.8, 4.1, 1.4, 0.5,
         8.9, 2.2, 0.6, 0.2, 0, 0.3, 0.8, 0.3, 0.2, 0, 0.4, 1.0, 0.4, 0.2, 0, 0.3,
         0.6, 0.2, 0, 0.4, 0.9, 0.4, 0.2, 0, 0.3, 0.8, 0.3, 0.2, 0, 0.4, 1.0, 0.4]
p26_p = [0, 0, 0, 0, 0, 0, 0, 0, 0, 0, 0, 0, 0, 0, 0.4, 1.0,
         0.4, 0.2, 0, 0.3, 0.8, 1.9, 0.7, 0.3, 0.2, 0, 0.4, 0.9, 0.4, 0.2, 0, 0.3,
         0.7, 0.3, 0.2, 0, 0.4, 1.1, 0.5, 0.2, 0, 0.3, 0.8, 0.3, 0.2, 1.8, 1.9, 1.9,
         1.6, 0.6, 0.2, 0, 0.3, 0.7, 0.3, 0.2, 0, 0.4, 1.0, 0.4, 0.2, 0, 0.3, 0.8]
p27_p = [0, 0, 0, 0, 0, 0, 0, 0, 0, 0, 0, 0, 0, 0, 0.3, 0.9,
         0.3, 0.2, 0, 0.4, 1.0, 0.4, 0.2, 0, 0.3, 0.8, 2.1, 4.9, 1.5, 0.5, 0.2, 0,
         0.3, 0.7, 0.3, 0.2, 0, 0.4, 0.9, 0.4, 0.2, 0, 0.3, 0.8, 0.3, 0.2, 0, 0.4,
         1.0, 0.4, 0.2, 0, 0.3, 0.7, 0.3, 0.2, 0, 0.4, 1.1, 0.4, 0.2, 0, 0.3, 0.7]
p28_p = [0, 0, 0, 0, 0, 0, 0, 0, 0, 0, 0, 0, 0, 0, 0.2, 0.5,
         0.2, 0, 0.3, 0.7, 0.3, 0.2, 0, 0.4, 0.9, 0.4, 0.2, 0, 0.3, 0.8, 0.3, 0.2,
         0, 0.4, 1.0, 0.4, 0.2, 0, 0.3, 0.7, 0.3, 0.2, 0, 0.4, 0.9, 0.4, 0.2, 0,
         0.3, 0.8, 0.3, 0.2, 0.4, 1.5, 4.2, 1.3, 0.4, 0.2, 0, 0.3, 0.7, 0.3, 0.2, 0]
p29_p = [0, 0, 0, 0, 0, 0, 0, 0, 0, 0, 0, 0, 0, 0, 0, 0.2,
         0.6, 0.2, 0, 0.3, 0.7, 0.3, 0.2, 0, 0.4, 1.0, 0.4, 0.2, 0, 0.3, 0.8, 0.3,
         0.2, 0, 0.4, 0.9, 0.4, 0.2, 0, 0.3, 0.8, 0.3, 0.2, 0, 0.4, 1.1, 0.4, 0.2,
         0, 0.3, 0.7, 0.3, 0.2, 0, 0.4, 0.9, 0.4, 0.2, 0, 0.3, 0.8, 0.3, 0.2, 0]
p30_p = [0, 0, 0, 0, 0, 0, 0, 0, 0, 0, 0, 0, 0, 0, 0.2, 0.4,
         0.2, 0, 0.3, 0.8, 0.3, 0.2, 0, 0.4, 1.0, 0.4, 0.2, 0, 0.3, 0.7, 0.3, 0.2,
         0, 0.4, 0.9, 0.4, 0.2, 0, 0.3, 0.8, 0.3, 0.2, 0, 0.4, 1.0, 0.4, 0.2, 0,
         0.3, 0.7, 0.3, 0.2, 0, 0.4, 5.1, 1.6, 0.5, 0.2, 0, 0.3, 0.8, 0.3, 0.2, 0]

member_t = [p01_t, p02_t, p03_t, p04_t, p05_t, p06_t, p07_t, p08_t, p09_t, p10_t,
            p11_t, p12_t, p13_t, p14_t, p15_t, p16_t, p17_t, p18_t, p19_t, p20_t,
            p21_t, p22_t, p23_t, p24_t, p25_t, p26_t, p27_t, p28_t, p29_t, p30_t]
member_p = [p01_p, p02_p, p03_p, p04_p, p05_p, p06_p, p07_p, p08_p, p09_p, p10_p,
            p11_p, p12_p, p13_p, p14_p, p15_p, p16_p, p17_p, p18_p, p19_p, p20_p,
            p21_p, p22_p, p23_p, p24_p, p25_p, p26_p, p27_p, p28_p, p29_p, p30_p]

# colour ramp of the 20 members, P21-P30 reuse the first ten
ramp = ["#1030c8", "#0850c0", "#0870c4", "#0898c8", "#08a8b8",
        "#08a888", "#08a864", "#08a848", "#10b42c", "#18c010",
        "#b8b400", "#c8a800", "#c89400", "#c88000", "#c07000",
        "#b86000", "#b04c10", "#a83818", "#a02818", "#901818"]
member_colors = ramp + ramp[:10]

CONTROL = "#0000ff"
OPER = "#22dd22"
MEAN = "#ffffff"
CLIM = "#f04545"
GRID = "#505050"
FONT = "DejaVu Sans"

fig = go.Figure()

# perturbed members: temperature then precipitation
for n in range(30):
    fig.add_trace(go.Scatter(x=times, y=member_t[n], mode="lines",
                             line=dict(color=member_colors[n], width=1.1), name=f"P{n+1}"))
for n in range(30):
    fig.add_trace(go.Scatter(x=times, y=member_p[n], mode="lines", yaxis="y2",
                             line=dict(color=member_colors[n], width=1.1), name=f"P{n+1} rr"))

# precipitation of mean, control and oper (oper drawn last, it lies on the zero line)
fig.add_trace(go.Scatter(x=times, y=ens_mean_p, mode="lines", yaxis="y2",
                         line=dict(color=MEAN, width=3.5), name="Ens. mean rr"))
fig.add_trace(go.Scatter(x=times, y=control_p, mode="lines", yaxis="y2",
                         line=dict(color=CONTROL, width=3.5), name="Control rr"))
fig.add_trace(go.Scatter(x=times, y=oper_p, mode="lines", yaxis="y2",
                         line=dict(color=OPER, width=3.5), name="Oper rr"))
# temperature of control, oper, ensemble mean and climate
fig.add_trace(go.Scatter(x=times, y=control_t, mode="lines",
                         line=dict(color=CONTROL, width=3.5), name="Control"))
fig.add_trace(go.Scatter(x=times, y=oper_t, mode="lines",
                         line=dict(color=OPER, width=3.5), name="Oper"))
fig.add_trace(go.Scatter(x=times, y=ens_mean_t, mode="lines",
                         line=dict(color=MEAN, width=3.5), name="Ens. mean"))
fig.add_trace(go.Scatter(x=times, y=clim_t, mode="lines",
                         line=dict(color=CLIM, width=3.5), name="1991-2020 mean"))

# plot area in page pixels (850x620 page)
L, R, T, B = 163, 809, 30, 560


def px(x):
    return (x - L) / (R - L)


def py(y):
    return (B - y) / (B - T)


def label(text, x, y, size=11, **kw):
    d = dict(text=text, xref="paper", yref="paper", x=px(x), y=py(y),
             xanchor="left", yanchor="middle", showarrow=False,
             font=dict(color="white", size=size, family=FONT))
    d.update(kw)
    return d


# hand-made legend in two columns
legend_rows = []
for r in range(15):
    legend_rows.append((f"P{2*r+1}", member_colors[2*r], f"P{2*r+2}", member_colors[2*r+1]))
legend_rows.append(("Control", CONTROL, "Ens. mean", MEAN))

annotations = []
shapes = []
for r, (n1, c1, n2, c2) in enumerate(legend_rows):
    yy = 39.5 + 15 * r
    for xs, name, col in ((0, n1, c1), (53, n2, c2)):
        shapes.append(dict(type="line", xref="paper", yref="paper",
                           x0=px(xs), x1=px(xs + 9), y0=py(yy), y1=py(yy),
                           line=dict(color=col, width=2)))
        annotations.append(label(name, xs + 8, yy))
shapes.append(dict(type="line", xref="paper", yref="paper", x0=px(0), x1=px(9),
                   y0=py(305), y1=py(305), line=dict(color=OPER, width=2)))
annotations.append(label("Oper", 8, 305))
shapes.append(dict(type="line", xref="paper", yref="paper", x0=px(53), x1=px(62),
                   y0=py(292), y1=py(292), line=dict(color=CLIM, width=2)))
annotations.append(label("1991-2020<br>mean", 62, 285, yanchor="top", align="left"))

# axis titles
annotations.append(label("850 hPa Temp. (°C)", 131, 295, xanchor="center", textangle=-90))
annotations.append(label("Neerslag (mm)", 840, 295, xanchor="center", textangle=-90))

# footer texts
annotations.append(label("GFS Ensemble, 52N, 5E", 119, 598, size=16))
annotations.append(label("Wetterzentrale.de", 649, 598, size=16))

fig.update_layout(
    width=850, height=620,
    margin=dict(l=L, r=850 - R, t=T, b=620 - B),
    paper_bgcolor="black", plot_bgcolor="black",
    showlegend=False,
    font=dict(family=FONT, color="white", size=11),
    title=dict(text="<b>De Bilt  (NL)  850 hPa Temp. & Neerslag | Tue, 11Aug2026 00Z</b>",
               x=435 / 850, xanchor="center", y=1 - 12 / 620, yanchor="middle",
               font=dict(size=16, color="white", family=FONT)),
    xaxis=dict(
        range=["2026-08-11 00:00", "2026-08-27 00:00"],
        dtick=2 * 86400000, tick0="2026-08-11", tickformat="%d%b %Hz",
        showgrid=True, gridcolor=GRID, griddash="4px,4px", gridwidth=1,
        minor=dict(dtick=86400000, showgrid=True, gridcolor=GRID, griddash="4px,4px"),
        showline=True, linecolor="white", linewidth=1, mirror=True,
        ticks="", ticklabelstandoff=3, tickfont=dict(size=11, color="white"),
        title=dict(text="Date (UTC)", font=dict(size=11, color="white"), standoff=4),
        zeroline=False,
    ),
    yaxis=dict(
        range=[-10, 35], dtick=5, showgrid=True, gridcolor=GRID, griddash="4px,4px",
        showline=True, linecolor="white", linewidth=1, mirror=True,
        ticks="", ticklabelstandoff=6, tickfont=dict(size=11, color="white"),
        zeroline=False,
    ),
    yaxis2=dict(
        range=[0, 40], dtick=10, overlaying="y", side="right",
        showgrid=False, zeroline=False,
        showline=True, linecolor="white", linewidth=1,
        ticks="inside", ticklen=5, tickcolor="white",
        minor=dict(dtick=1, ticks="inside", ticklen=5, tickcolor="white"),
        ticklabelstandoff=4, tickfont=dict(size=11, color="white"),
    ),
    shapes=shapes,
    annotations=annotations,
)

# the page is photographed from its top-left corner, so drop the default body margin
fig.write_html("out.html", config={"displayModeBar": False},
               post_script="document.body.style.margin = '0';")
